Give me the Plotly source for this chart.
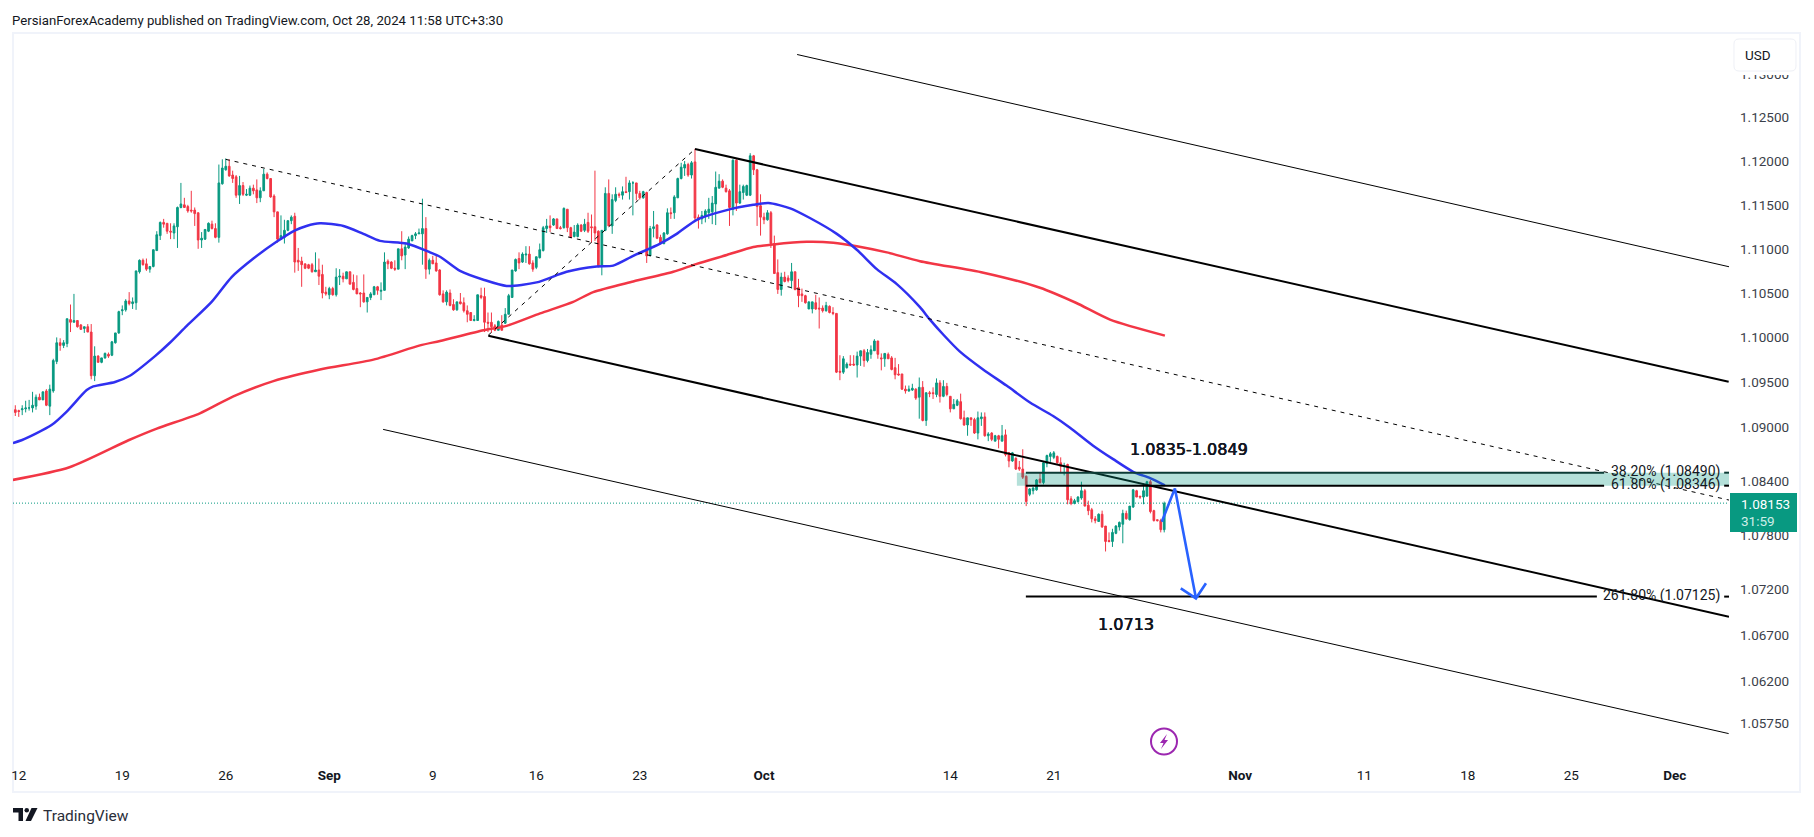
import math
import plotly.graph_objects as go

# OHLC in 1/10000 of a dollar, one entry per 4H bar
opens = [10919,10918,10919,10920,10921,10921,10923,10933,10930,10940,
10923,10940,10973,10994,10991,10993,11020,11017,11019,11014,
11010,11012,11006,10957,10979,10972,10977,10981,10980,10994,
11005,11030,11031,11041,11038,11039,11074,11087,11083,11077,
11080,11098,11115,11130,11129,11120,11118,11125,11147,11150,
11148,11144,11144,11141,11110,11111,11120,11128,11123,11113,
11174,11190,11194,11184,11182,11161,11172,11161,11161,11169,
11167,11158,11166,11185,11180,11160,11142,11111,11113,11121,
11132,11137,11087,11086,11083,11082,11082,11074,11076,11071,
11051,11048,11055,11048,11068,11069,11066,11074,11062,11055,
11050,11050,11040,11045,11048,11057,11052,11053,11086,11085,
11078,11077,11100,11093,11101,11109,11115,11117,11117,11123,
11077,11087,11084,11076,11049,11040,11050,11037,11031,11040,
11039,11030,11028,11019,11019,11047,11046,11017,11017,11013,
11008,11014,11016,11026,11045,11075,11089,11085,11093,11094,
11084,11079,11090,11098,11123,11126,11127,11134,11124,11124,
11145,11124,11114,11114,11127,11121,11130,11125,11125,11120,
11080,11121,11163,11126,11155,11162,11161,11165,11165,11175,
11175,11163,11158,11164,11092,11123,11127,11113,11106,11117,
11141,11141,11158,11180,11192,11196,11184,11199,11136,11134,
11137,11141,11142,11151,11169,11177,11169,11166,11145,11201,
11152,11164,11161,11161,11206,11190,11149,11136,11133,11141,
11106,11073,11054,11068,11067,11064,11074,11056,11049,11047,
11032,11032,11039,11033,11033,11030,11035,11028,11027,10962,
10961,10966,10970,10970,10969,10979,10985,10974,10981,10985,
10996,10977,10976,10981,10977,10966,10959,10959,10942,10940,
10941,10942,10933,10944,10907,10938,10938,10936,10949,10934,
10945,10934,10920,10924,10928,10910,10902,10910,10908,10893,
10909,10911,10890,10893,10884,10890,10884,10891,10871,10862,
10865,10855,10853,10845,10825,10829,10830,10842,10838,10859,
10867,10866,10867,10860,10856,10858,10820,10815,10817,10821,
10829,10813,10808,10798,10795,10803,10790,10774,10773,10782,
10789,10792,10804,10797,10811,10829,10823,10822,10823,10839,
10807,10797,10796,10786]
closes = [10916,10917,10920,10921,10921,10924,10933,10930,10939,10924,
10942,10974,10994,10991,10994,11021,11017,11019,11012,11009,
11012,11006,10957,10979,10972,10977,10982,10979,10995,11005,
11029,11031,11041,11038,11040,11075,11087,11082,11077,11080,
11099,11116,11130,11128,11120,11119,11126,11147,11151,11147,
11143,11143,11140,11110,11112,11122,11129,11123,11113,11175,
11192,11194,11183,11180,11161,11172,11162,11162,11169,11166,
11158,11166,11185,11180,11159,11142,11111,11115,11121,11132,
11136,11085,11085,11082,11078,11078,11074,11076,11069,11050,
11049,11055,11048,11068,11069,11066,11074,11060,11054,11049,
11049,11040,11045,11049,11057,11053,11053,11085,11083,11078,
11077,11100,11092,11102,11111,11115,11117,11118,11123,11077,
11087,11083,11075,11048,11040,11051,11036,11031,11040,11038,
11030,11026,11019,11020,11048,11045,11017,11016,11012,11008,
11018,11008,11026,11047,11076,11088,11084,11094,11094,11083,
11077,11091,11099,11124,11126,11124,11134,11123,11123,11146,
11124,11113,11119,11127,11120,11128,11120,11124,11118,11080,
11121,11163,11126,11156,11162,11161,11165,11164,11175,11175,
11163,11158,11165,11092,11123,11125,11112,11106,11118,11141,
11140,11159,11180,11193,11196,11184,11198,11135,11133,11138,
11143,11145,11152,11170,11177,11170,11165,11147,11201,11152,
11165,11171,11172,11206,11190,11148,11136,11133,11141,11106,
11072,11054,11068,11063,11064,11074,11054,11047,11047,11039,
11040,11040,11032,11032,11030,11036,11028,11027,10961,10961,
10976,10970,10969,10969,10979,10985,10974,10983,10986,10996,
10981,10976,10982,10976,10964,10958,10958,10942,10940,10942,
10943,10932,10944,10907,10938,10937,10937,10949,10934,10945,
10936,10920,10925,10929,10909,10902,10910,10908,10893,10910,
10911,10890,10892,10886,10890,10886,10890,10869,10862,10871,
10853,10853,10844,10817,10831,10832,10841,10838,10860,10868,
10870,10871,10860,10856,10857,10819,10815,10818,10822,10829,
10812,10807,10798,10796,10803,10789,10773,10773,10783,10790,
10794,10804,10798,10812,10830,10822,10822,10829,10839,10806,
10796,10796,10786,10815]
highs = [10924,10919,10924,10929,10930,10939,10936,10937,10939,10942,
10947,10976,11000,10999,10997,11021,11037,11049,11019,11015,
11012,11015,11015,10990,10980,10977,10983,10983,10996,11005,
11030,11036,11043,11051,11045,11075,11088,11089,11089,11080,
11099,11120,11131,11134,11129,11129,11129,11148,11175,11158,
11150,11166,11147,11141,11119,11122,11130,11132,11129,11196,
11202,11203,11202,11189,11184,11183,11176,11168,11172,11173,
11179,11170,11191,11187,11180,11162,11142,11138,11133,11132,
11138,11141,11101,11091,11083,11083,11084,11096,11089,11082,
11057,11057,11057,11078,11077,11073,11074,11074,11071,11070,
11051,11071,11045,11051,11058,11058,11062,11096,11088,11086,
11087,11100,11120,11106,11114,11116,11119,11123,11157,11136,
11089,11092,11092,11077,11053,11053,11054,11043,11040,11050,
11045,11036,11028,11025,11048,11056,11056,11028,11028,11015,
11019,11025,11033,11049,11076,11089,11096,11096,11103,11103,
11087,11091,11106,11126,11134,11138,11135,11134,11126,11147,
11145,11125,11127,11129,11128,11134,11141,11139,11189,11121,
11121,11170,11179,11162,11170,11164,11171,11182,11178,11177,
11175,11166,11166,11165,11126,11143,11128,11116,11119,11146,
11147,11161,11181,11198,11200,11198,11200,11214,11139,11143,
11145,11158,11160,11188,11185,11179,11173,11168,11202,11202,
11173,11173,11173,11209,11207,11191,11162,11141,11144,11143,
11115,11088,11073,11074,11070,11084,11074,11066,11055,11048,
11040,11040,11048,11045,11036,11040,11036,11034,11027,10980,
10979,10972,10980,10980,10984,10985,10987,10987,10991,10998,
10996,10982,10982,10983,10979,10977,10970,10959,10946,10946,
10948,10943,10955,10951,10938,10940,10944,10954,10952,10952,
10949,10934,10931,10931,10937,10918,10910,10910,10910,10917,
10916,10916,10894,10894,10891,10891,10902,10897,10872,10872,
10866,10862,10875,10846,10832,10833,10842,10849,10861,10869,
10872,10873,10868,10866,10860,10859,10823,10820,10823,10839,
10831,10818,10810,10801,10804,10807,10790,10783,10787,10791,
10795,10808,10807,10812,10831,10830,10823,10837,10840,10841,
10808,10797,10798,10817]
lows = [10912,10911,10913,10916,10918,10916,10919,10930,10930,10923,
10913,10938,10970,10985,10988,10989,11006,11017,11011,11009,
11005,11006,10953,10951,10972,10971,10976,10977,10979,10993,
11004,11025,11029,11036,11032,11031,11072,11081,11075,11073,
11079,11098,11110,11124,11117,11111,11111,11101,11146,11147,
11141,11141,11126,11100,11101,11110,11119,11122,11112,11107,
11173,11189,11182,11175,11158,11151,11160,11160,11160,11162,
11152,11153,11166,11179,11158,11136,11107,11110,11106,11120,
11128,11073,11075,11057,11077,11077,11073,11074,11059,11044,
11047,11043,11047,11046,11059,11062,11066,11060,11053,11049,
11034,11039,11028,11042,11048,11048,11042,11053,11077,11077,
11075,11077,11087,11077,11100,11109,11111,11117,11082,11066,
11071,11083,11074,11047,11039,11036,11035,11030,11030,11037,
11028,11017,11019,11018,11019,11043,11006,11006,11005,11007,
11008,11008,11015,11026,11045,11074,11077,11084,11084,11082,
11074,11077,11089,11097,11118,11119,11126,11123,11122,11123,
11119,11112,11113,11113,11119,11119,11118,11107,11109,11079,
11070,11120,11126,11117,11153,11158,11156,11164,11156,11138,
11155,11156,11157,11084,11092,11113,11111,11105,11105,11116,
11134,11134,11158,11179,11183,11182,11180,11132,11123,11128,
11130,11134,11128,11127,11169,11169,11164,11126,11138,11143,
11151,11156,11160,11160,11184,11126,11115,11128,11132,11101,
11072,11049,11047,11062,11062,11055,11053,11034,11040,11038,
11032,11027,11031,11010,11028,11029,11027,11025,10960,10952,
10959,10965,10968,10968,10955,10968,10967,10972,10976,10985,
10976,10963,10967,10976,10963,10953,10957,10941,10937,10939,
10940,10930,10909,10906,10901,10933,10931,10933,10927,10933,
10934,10916,10920,10923,10908,10901,10890,10901,10892,10886,
10901,10889,10884,10884,10884,10876,10884,10867,10855,10861,
10852,10851,10842,10812,10823,10825,10829,10837,10836,10855,
10861,10864,10859,10849,10846,10814,10813,10814,10816,10819,
10812,10802,10794,10793,10795,10788,10762,10772,10767,10781,
10785,10771,10797,10796,10810,10822,10820,10814,10823,10804,
10795,10795,10783,10783]

# Moving averages, read as (bar, price)
ma_blue_bars = [-0.7,1.8,10.5,14.9,20.7,22.6,28.9,33.2,40.5,44.8,49.7,56.9,62.7,69,75.7,81.1,84.4,88.3,95.1,100.9,105.7,113.4,120.2,123.1,128.9,135.7,142.4,151.1,159.8,168.5,173.3,179.1,186.9,191.7,197.5,206.2,213.9,218.3,224.6,230.3,238.1,243.9,249.7,255.5,262.2,265.1,269,273.8,280.5,287.3,294.1,300.8,305.7,312.4,318.2,324,328.9,333.2]
ma_blue_vals = [1.0882,1.0885,1.0902,1.0917,1.0941,1.0945,1.0950,1.0957,1.0979,1.0994,1.1013,1.1040,1.1068,1.1089,1.1108,1.1121,1.1126,1.1129,1.1126,1.1117,1.1109,1.1106,1.1096,1.1091,1.1075,1.1065,1.1058,1.1062,1.1074,1.1080,1.1081,1.1092,1.1106,1.1117,1.1133,1.1144,1.1150,1.1152,1.1146,1.1135,1.1117,1.1099,1.1077,1.1060,1.1034,1.1020,1.1003,1.0984,1.0964,1.0946,1.0927,1.0912,1.0899,1.0879,1.0864,1.0850,1.0843,1.0835]
ma_red_bars = [-0.7,15.7,32.8,41,53.5,63.2,74.8,88.3,103.8,117.3,123.1,135.7,142.4,152.1,161.7,167.5,179.1,190.7,197.5,206.2,213.9,219.7,229.4,237.1,243.9,252.6,262.2,280.6,297,307.4,317.3,333.2]
ma_red_vals = [1.0841,1.0855,1.0885,1.0898,1.0915,1.0934,1.0951,1.0964,1.0975,1.0991,1.0996,1.1008,1.1013,1.1027,1.1040,1.1051,1.1063,1.1074,1.1083,1.1093,1.1102,1.1105,1.1108,1.1107,1.1103,1.1096,1.1086,1.1073,1.1056,1.1039,1.1020,1.1002]

# Drawn lines: (bar0, price0, bar1, price1)
solid_thin = [(226.6,1.13226,496.7,1.10797),(106.6,1.08971,496.6,1.05636)]
solid_thick = [(197.0,1.12137,496.6,1.09502),(137.1,1.10019,496.7,1.06905)]
dashed = [(61.0,1.12019,496.7,1.08187),(137.1,1.10025,197.0,1.12137)]

fib_levels = [1.08490,1.08346,1.07125]
fib_labels = ["38.20% (1.08490)","61.80% (1.08346)","261.80% (1.07125)"]
fib_colors = ["#0c3b35","#000000","#000000"]
fib_start_bar = 292.9
fib_gap_bars = [460.5,460.5,458.4]
fib_fill_bar = 290.3
last_bar = 496.7
first_bar = -0.67

arrow_bars = [332.3,336.1,342.2]
arrow_vals = [1.07948,1.08316,1.07106]
head_bars = [337.8,342.2,345.1]
head_vals = [1.07215,1.07106,1.07271]

last_price = 1.08153

x_tick_bars = [1,31,61,91,121,151,181,217,271,301,355,391,421,451,481]
x_tick_text = ["12","19","26","<b>Sep</b>","9","16","23","<b>Oct</b>","14","21","<b>Nov</b>","11","18","25","<b>Dec</b>"]
y_tick_vals = [1.13,1.125,1.12,1.115,1.11,1.105,1.10,1.095,1.09,1.084,1.078,1.072,1.067,1.062,1.0575]

FONT = "Roboto"
TXT = "#131722"
L, R, T, B = 13, 1729, 33, 760

def xp(x):
    return (x - L) / (R - L)

def yp(y):
    return 1 - (y - T) / (B - T)

fig = go.Figure()
fig.add_trace(go.Candlestick(
    x=list(range(len(opens))),
    open=[v / 10000 for v in opens], high=[v / 10000 for v in highs],
    low=[v / 10000 for v in lows], close=[v / 10000 for v in closes],
    increasing=dict(line=dict(color="#089981", width=1), fillcolor="#089981"),
    decreasing=dict(line=dict(color="#f23645", width=1), fillcolor="#f23645"),
    whiskerwidth=0, hoverinfo="skip"))

def line(xs, ys, color, width, dash="solid", smooth=False):
    style = dict(color=color, width=width, dash=dash)
    if smooth:
        style.update(shape="spline", smoothing=0.7)
    fig.add_trace(go.Scatter(x=xs, y=ys, mode="lines", hoverinfo="skip", line=style))

line([first_bar, last_bar], [last_price, last_price], "#089981", 1, "1px,2px")
line(ma_red_bars, ma_red_vals, "#f23645", 2.5, smooth=True)
line(ma_blue_bars, ma_blue_vals, "#3030f0", 2.5, smooth=True)
for x0, y0, x1, y1 in solid_thin:
    line([x0, x1], [y0, y1], "#000000", 1)
for x0, y0, x1, y1 in solid_thick:
    line([x0, x1], [y0, y1], "#000000", 2)
for x0, y0, x1, y1 in dashed:
    line([x0, x1], [y0, y1], "#000000", 1, "4px,5px")

fig.add_trace(go.Scatter(
    x=[fib_fill_bar, last_bar, last_bar, fib_fill_bar, fib_fill_bar],
    y=[fib_levels[0], fib_levels[0], fib_levels[1], fib_levels[1], fib_levels[0]],
    mode="none", fill="toself", fillcolor="rgba(8,153,129,0.30)", hoverinfo="skip"))
for lvl, col, gap in zip(fib_levels, fib_colors, fib_gap_bars):
    line([fib_start_bar, gap], [lvl, lvl], col, 2)
    line([495.3, last_bar], [lvl, lvl], col, 2)

line(arrow_bars, arrow_vals, "#2962ff", 2.6)
line(head_bars, head_vals, "#2962ff", 2.6)

ann = []
for lvl, lab in zip(fib_levels, fib_labels):
    ann.append(dict(x=494.6, y=math.log10(lvl), xref="x", yref="y", text=lab, showarrow=False,
                    xanchor="right", yanchor="middle", yshift=1,
                    font=dict(family=FONT, size=14, color=TXT)))

def label(x, y, text, family=FONT, size=13.5, color=TXT, anchor="left", **fontkw):
    ann.append(dict(x=xp(x), y=yp(y), xref="paper", yref="paper", text=text, showarrow=False,
                    xanchor=anchor, yanchor="middle", borderpad=0,
                    xshift=-1 if anchor == "left" else 0,
                    font=dict(family=family, size=size, color=color, **fontkw)))

heavy = "0.35px 0 0 #131722, -0.25px 0 0 #131722"
label(1189, 449, "1.0835-1.0849", "DejaVu Sans", 16, anchor="center", shadow=heavy)
label(1126, 624, "1.0713", "DejaVu Sans", 16, anchor="center", shadow=heavy)
label(12, 20, "PersianForexAcademy published on TradingView.com, Oct 28, 2024 11:58 UTC+3:30", size=13.2)
label(1758, 55, "USD", anchor="center")
label(1741, 504, "1.08153", color="#ffffff")
label(1741, 521, "31:59", color="#cfeee8")
label(43, 816, "TradingView", size=15.5, color="#2a2e39")

def prect(x0, y0, x1, y1, **kw):
    return dict(type="rect", xref="paper", yref="paper", x0=xp(x0), x1=xp(x1), y0=yp(y0), y1=yp(y1), **kw)

def ppath(points, fill):
    d = "M " + " L ".join(f"{xp(a):.5f},{yp(b):.5f}" for a, b in points) + " Z"
    return dict(type="path", xref="paper", yref="paper", path=d, fillcolor=fill, line=dict(width=0))

def rounded(x0, y0, x1, y1, r):
    p = lambda a, b: f"{xp(a):.5f},{yp(b):.5f}"
    d = (f"M {p(x0 + r, y0)} L {p(x1 - r, y0)} Q {p(x1, y0)} {p(x1, y0 + r)} L {p(x1, y1 - r)} "
         f"Q {p(x1, y1)} {p(x1 - r, y1)} L {p(x0 + r, y1)} Q {p(x0, y1)} {p(x0, y1 - r)} "
         f"L {p(x0, y0 + r)} Q {p(x0, y0)} {p(x0 + r, y0)} Z")
    return dict(type="path", xref="paper", yref="paper", path=d, fillcolor="#ffffff",
                line=dict(color="#eef0f6", width=1))

shapes = [
    prect(13, 33, 1800, 792, line=dict(color="#f0f3fa", width=2), layer="below"),
    prect(1732, 36, 1798, 75, line=dict(width=0), fillcolor="#ffffff"),
    rounded(1734, 39, 1796, 71, 5),
    prect(1730, 493, 1797, 532, line=dict(width=0), fillcolor="#089981"),
    dict(type="circle", xref="paper", yref="paper", x0=xp(1151), x1=xp(1177), y0=yp(728.5), y1=yp(754.5),
         line=dict(color="#9c27b0", width=2)),
    ppath([(1167, 734), (1160, 743), (1163.5, 743), (1161, 749), (1168, 740), (1164.5, 740)], "#9c27b0"),
    ppath([(13, 808), (23, 808), (23, 821), (18.5, 821), (18.5, 812.5), (13, 812.5)], "#131722"),
    dict(type="circle", xref="paper", yref="paper", x0=xp(24.5), x1=xp(29), y0=yp(808), y1=yp(812.5),
         fillcolor="#131722", line=dict(width=0)),
    ppath([(31.5, 808), (37.5, 808), (31, 821), (25.5, 821)], "#131722"),
]

fig.update_layout(
    width=1814, height=837, margin=dict(l=L, r=1814 - R, t=T, b=837 - B, pad=0, autoexpand=False),
    paper_bgcolor="#ffffff", plot_bgcolor="#ffffff", showlegend=False,
    annotations=ann, shapes=shapes,
    font=dict(family=FONT, size=13.5, color=TXT),
    xaxis=dict(range=[first_bar, last_bar], rangeslider=dict(visible=False), showgrid=False, zeroline=False,
               showline=False, ticks="", tickmode="array", tickvals=x_tick_bars, ticktext=x_tick_text,
               tickangle=0, ticklabelstandoff=5, tickfont=dict(family=FONT, size=13.5, color=TXT), fixedrange=True),
    yaxis=dict(type="log", range=[0.02264, 0.05490], side="right", showgrid=False, zeroline=False, showline=False,
               ticks="", tickmode="array", tickvals=y_tick_vals, ticktext=[f"{v:.5f}" for v in y_tick_vals],
               ticklabelstandoff=10, tickfont=dict(family=FONT, size=13.5, color="#3b3f4a"), fixedrange=True),
)
fig.write_html("out.html", config=dict(displayModeBar=False),
               post_script="document.body.style.margin='0';document.body.style.overflow='hidden';")
